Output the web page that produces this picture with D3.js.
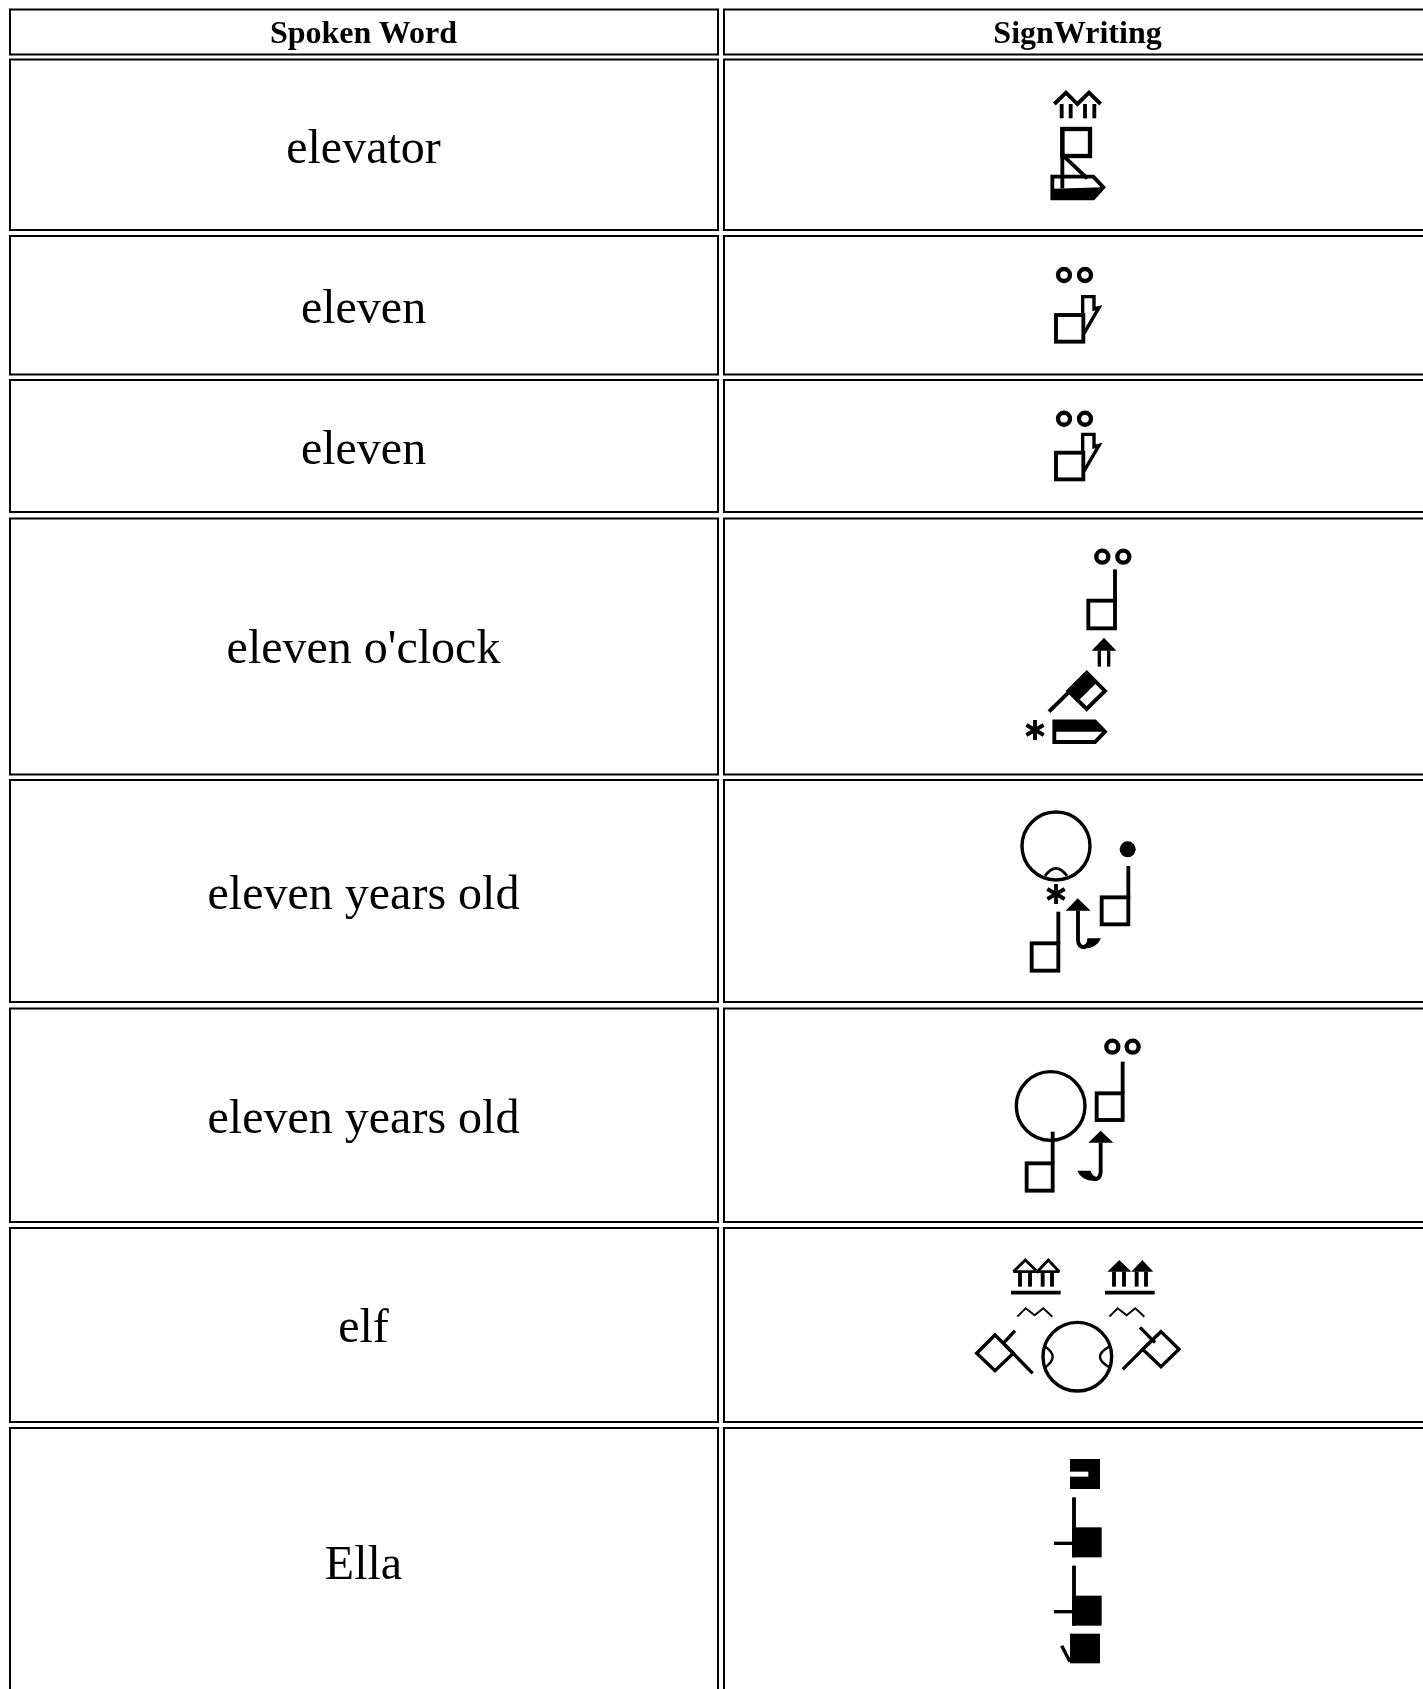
<!DOCTYPE html>
<html><head><meta charset="utf-8">
<script src="https://cdnjs.cloudflare.com/ajax/libs/d3/7.8.5/d3.min.js"></script>
<style>html,body{margin:0;padding:0;background:#fff;overflow:hidden}svg{display:block}</style>
</head><body><div id="c"></div>
<script>
// ---- table content ----
const headers = ["Spoken Word", "SignWriting"];
const spokenWords = ["elevator","eleven","eleven","eleven o'clock","eleven years old","eleven years old","elf","Ella"];
const signKeys = ["elevator","eleven1","eleven2","elevenOclock","elevenYears1","elevenYears2","elf","ella"];

// ---- layout ----
const W = 1423, H = 1689;
const rowEdges = [[9.5,54.5],[59.5,230],[236,374.5],[380,512],[518.5,774.5],[780,1002],[1008.5,1222],[1228,1422],[1428,1800]];
const colEdges = [[10,718],[724,1432]];
const lastRowVisualBottom = 1695;
const wordNudge = [0,0,0,-1.5,0,0,-1,-1];
const glyphOrigin = {elevator:[1000,80],eleven1:[1000,250],eleven2:[1000,387.7],elevenOclock:[1000,530],
  elevenYears1:[1000,790],elevenYears2:[1000,1020],elf:[960,1240],ella:[1020,1440]};
const strokeScale = 1.45;

const rowScale = d3.scaleOrdinal().domain(d3.range(rowEdges.length)).range(rowEdges);
const colScale = d3.scaleOrdinal().domain([0,1]).range(colEdges);

const svg = d3.select("#c").append("svg").attr("width",W).attr("height",H).attr("viewBox",`0 0 ${W} ${H}`);
svg.append("rect").attr("width",W).attr("height",H).attr("fill","#fff");
const defs = svg.append("defs");
defs.append("filter").attr("id","soft").attr("x","-10%").attr("y","-10%").attr("width","120%").attr("height","120%")
  .append("feGaussianBlur").attr("stdDeviation",1.4);
defs.append("filter").attr("id","softText").attr("x","-5%").attr("y","-20%").attr("width","110%").attr("height","140%")
  .append("feGaussianBlur").attr("stdDeviation",0.25);

// ---- cells ----
const cells = [];
rowEdges.forEach((r,i)=>[0,1].forEach(c=>cells.push({r:i,c})));
svg.append("g").selectAll("rect").data(cells).join("rect")
  .attr("x",d=>colScale(d.c)[0]).attr("width",d=>colScale(d.c)[1]-colScale(d.c)[0])
  .attr("y",d=>rowScale(d.r)[0]).attr("height",d=>rowScale(d.r)[1]-rowScale(d.r)[0])
  .attr("fill","none").attr("stroke","#000").attr("stroke-width",2);

// ---- text ----
const serif = "'Liberation Serif','Times New Roman',serif";
const colCenter = c => (colScale(c)[0]+colScale(c)[1])/2-0.5;
const textG = svg.append("g").attr("font-family",serif).attr("text-anchor","middle").attr("fill","#000").attr("filter","url(#softText)");
textG.selectAll("text.h").data(headers).join("text").attr("class","h")
  .attr("x",(d,i)=>colCenter(i)).attr("y",(rowEdges[0][0]+rowEdges[0][1])/2+11)
  .attr("font-size",32).attr("font-weight","bold").text(d=>d);
textG.selectAll("text.w").data(spokenWords).join("text").attr("class","w")
  .attr("x",colCenter(0)).attr("y",(d,i)=>(rowScale(i+1)[0]+Math.min(rowScale(i+1)[1],lastRowVisualBottom))/2+18+wordNudge[i])
  .attr("font-size",48).text(d=>d);

// ---- SignWriting symbol helpers (units: 1/3 px) ----
const ln = d3.line();
function stroke(g,d,w,col){g.append("path").attr("d",d).attr("fill","none").attr("stroke",col||"#000").attr("stroke-width",w*strokeScale).attr("stroke-linejoin","miter");}
function fill(g,d,col){g.append("path").attr("d",d).attr("fill",col||"#000");}
function poly(g,pts,w,closed){stroke(g,ln(pts)+(closed?"Z":""),w);}
function solid(g,pts,col){fill(g,ln(pts)+"Z",col);}
function ring(g,cx,cy,r,w){g.append("circle").attr("cx",cx).attr("cy",cy).attr("r",r).attr("fill","none").attr("stroke","#000").attr("stroke-width",w*strokeScale);}
function dot(g,cx,cy,r){g.append("circle").attr("cx",cx).attr("cy",cy).attr("r",r).attr("fill","#000");}
function box(g,x0,y0,x1,y1,w){g.append("rect").attr("x",x0).attr("y",y0).attr("width",x1-x0).attr("height",y1-y0).attr("fill","none").attr("stroke","#000").attr("stroke-width",w*strokeScale);}
function block(g,x0,y0,x1,y1,col){g.append("rect").attr("x",x0).attr("y",y0).attr("width",x1-x0).attr("height",y1-y0).attr("fill",col||"#000");}
function eyes(g,x1,x2,y){ring(g,x1,y,18,9);ring(g,x2,y,18,9);}
function star(g,x,y){poly(g,[[x,y-30],[x,y+30]],8);poly(g,[[x-26,y-15],[x+26,y+15]],8);poly(g,[[x-26,y+15],[x+26,y-15]],8);}
function stemHand(g,x0,x1,yStem,y0,y1){box(g,x0,y0,x1,y1,8);poly(g,[[x1,yStem],[x1,y0]],8);}
function fingerHand(g,dy){box(g,168,195+dy,250,275+dy,8);poly(g,[[248,195+dy],[248,140+dy],[282,140+dy],[282,177+dy],[297,173+dy],[252,250+dy]],7);}
function zig(g,x){poly(g,[[x,230],[x+25,205],[x+52,226],[x+78,205],[x+105,230]],4);}
function arrows(g,x,filled){
  const heads=[[x,95],[x+36,60],[x+72,95],[x+105,60],[x+138,95]];
  if(filled){solid(g,[heads[0],heads[1],heads[2]]);solid(g,[heads[2],heads[3],heads[4]]);}
  else{poly(g,heads,6);poly(g,[heads[0],heads[4]],6);}
  [20,50,88,116].forEach(o=>poly(g,[[x+o,95],[x+o,140]],8));
  poly(g,[[x-7,158],[x+142,158]],8);
}

const signGlyphs = {
  elevator(g){
    poly(g,[[163,72],[198,38],[232,72],[267,38],[302,72]],8);
    [185,212,255,283].forEach(x=>poly(g,[[x,72],[x,115]],8));
    box(g,187,147,270,228,9);
    poly(g,[[187,147],[187,325]],8);
    poly(g,[[195,232],[262,295]],8);
    poly(g,[[157,290],[280,290],[310,322],[280,355],[157,355]],8,true);
    solid(g,[[157,326],[310,322],[280,355],[157,355]]);
  },
  eleven1(g){eyes(g,192,255,75);fingerHand(g,0);},
  eleven2(g){eyes(g,192,255,93);fingerHand(g,0);},
  elevenOclock(g){
    eyes(g,307,370,80);
    stemHand(g,265,345,118,212,295);
    solid(g,[[275,362],[312,323],[349,362]]);
    poly(g,[[298,362],[298,410]],7);poly(g,[[326,362],[326,410]],7);
    poly(g,[[147,545],[215,478]],8);
    poly(g,[[260,428],[315,483],[260,537],[205,483]],8,true);
    solid(g,[[205,483],[260,428],[290,458],[235,512]]);
    star(g,105,600);
    poly(g,[[163,574],[285,574],[315,605],[285,636],[163,636]],8,true);
    solid(g,[[163,574],[285,574],[315,605],[163,605]]);
  },
  elevenYears1(g){
    ring(g,168,168,102,7);
    stroke(g,"M135,258 Q168,212 201,258",6);
    star(g,168,312);
    dot(g,383,178,24);
    stemHand(g,305,385,228,322,403);
    stemHand(g,95,175,365,460,542);
    solid(g,[[197,362],[233,325],[272,362]]);
    stroke(g,"M234,362 L234,450 Q234,472 256,472",8);
    fill(g,"M250,476 Q290,476 303,445 L262,445 Q262,462 250,466Z");
  },
  elevenYears2(g){
    eyes(g,337,398,80);
    stemHand(g,290,368,125,220,300);
    ring(g,152,258,103,7);
    stemHand(g,80,158,335,430,512);
    solid(g,[[265,368],[302,332],[340,368]]);
    stroke(g,"M302,368 L302,455 Q302,478 280,478",8);
    fill(g,"M286,482 Q245,484 232,452 L272,452 Q275,466 288,470Z");
  },
  elf(g){
    arrows(g,160,false);arrows(g,442,true);
    zig(g,172);zig(g,448);
    ring(g,352,350,103,7);
    stroke(g,"M256,320 Q300,350 256,382",5);
    stroke(g,"M448,320 Q392,350 448,382",5);
    poly(g,[[105,285],[160,340],[105,392],[50,340]],7,true);
    poly(g,[[218,400],[135,315]],7);poly(g,[[165,272],[132,308]],7);
    poly(g,[[603,275],[657,328],[603,380],[548,328]],7,true);
    poly(g,[[488,388],[575,302]],7);poly(g,[[540,262],[585,308]],7);
  },
  ella(g){
    block(g,150,57,240,147);block(g,150,95,205,110,"#fff");
    [0,205].forEach(dy=>{
      poly(g,[[162,172+dy],[162,352+dy]],8);
      block(g,157,262+dy,245,352+dy);
      poly(g,[[102,310+dy],[160,310+dy]],7);
    });
    block(g,150,581,240,670);
    poly(g,[[125,617],[150,665]],7);
  }
};

// ---- draw glyphs ----
svg.append("g").selectAll("g").data(signKeys).join("g")
  .attr("transform",d=>`translate(${glyphOrigin[d][0]},${glyphOrigin[d][1]}) scale(${1/3})`)
  .attr("filter","url(#soft)")
  .each(function(d){signGlyphs[d](d3.select(this));});
</script></body></html>
